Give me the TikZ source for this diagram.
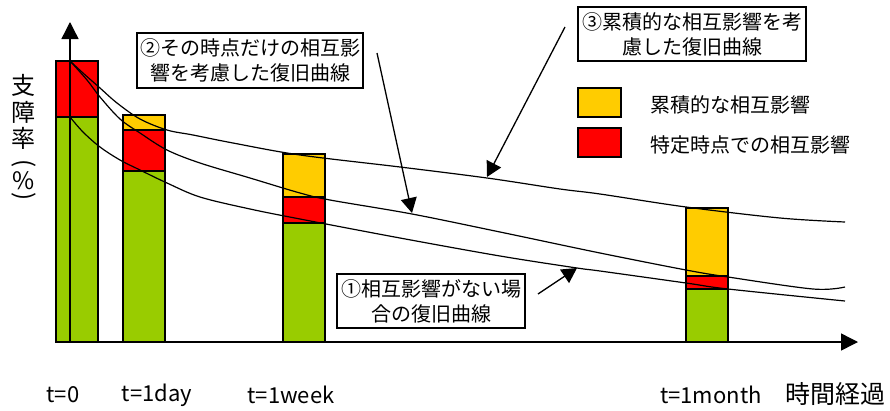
\documentclass[tikz,border=0pt]{standalone}
\usepackage{fontspec}
\setmainfont{Noto Sans CJK JP}
\usetikzlibrary{arrows.meta}
\definecolor{barGreen}{RGB}{153,204,0}
\definecolor{barYellow}{RGB}{255,204,0}
\definecolor{barRed}{RGB}{255,0,0}
\begin{document}
\begin{tikzpicture}[x=1pt,y=-1pt,
  barpart/.style={draw=black,line width=1.2pt},
  greenpart/.style={barpart,fill=barGreen},
  yellowpart/.style={barpart,fill=barYellow},
  redpart/.style={barpart,fill=barRed},
  curve/.style={draw=black,line width=1.2pt},
  axisline/.style={draw=black,line width=1.4pt,-{Triangle[length=17pt,width=17pt]}},
  pointer/.style={draw=black,line width=1.3pt,-{Triangle[length=15pt,width=16pt]}},
  labelbox/.style={draw=black,line width=1.3pt,fill=white,align=center,inner sep=0pt,
    font=\fontsize{20}{25}\selectfont},
  legendtext/.style={anchor=west,inner sep=0pt,font=\fontsize{20}{24}\selectfont},
  ticklabel/.style={inner sep=0pt,font=\fontsize{22}{26}\selectfont},
  ylabchar/.style={inner sep=0pt,font=\fontsize{24}{26}\selectfont}
]
\useasboundingbox (0,0) rectangle (890,410);
\fill[white] (0,0) rectangle (890,410);

% bars
% t=0
\path[greenpart] (56,117) rectangle (98,342);
\path[redpart] (56,61) rectangle (98,117);
% t=1day
\path[greenpart] (123,171) rectangle (165,342);
\path[redpart] (123,130) rectangle (165,171);
\path[yellowpart] (123,115) rectangle (165,130);
% t=1week
\path[greenpart] (283,223) rectangle (325,342);
\path[redpart] (283,197) rectangle (325,223);
\path[yellowpart] (283,154) rectangle (325,197);
% t=1month
\path[greenpart] (686,289) rectangle (728,342);
\path[redpart] (686,276) rectangle (728,289);
\path[yellowpart] (686,208) rectangle (728,276);

% axes
\coordinate (origin) at (70,342);
\coordinate (ytip) at (70,22);
\coordinate (xtip) at (858,342);
\draw[axisline] (origin) -- (ytip);
\draw[axisline] (origin) -- (xtip);

% curves
% (3) cumulative
\draw[curve] plot[smooth,tension=0.55] coordinates {(70,61) (83,73) (100,88) (117,103) (140,119) (167,130) (193,135) (233,143) (300,155) (400,167) (487,178) (560,189) (600,194) (686,207) (780,218) (845,222)};
% (2) point in time
\draw[curve] plot[smooth,tension=0.55] coordinates {(70,61) (87,80) (100,97) (120,119) (140,133) (167,150) (200,163) (250,178) (300,193) (330,200) (412,214) (500,232) (600,253) (686,270) (728,277) (813,289) (845,287)};
% (1) no interaction
\draw[curve] plot[smooth,tension=0.55] coordinates {(70,117) (83,132) (100,147) (120,160) (140,170) (167,183) (200,197) (250,209) (300,219) (400,238) (500,256) (577,268) (600,271) (686,283) (728,289) (845,301)};

% pointer coordinates
\coordinate (p2s) at (377,53);
\coordinate (p2e) at (412,213);
\coordinate (p3s) at (565,27);
\coordinate (p3e) at (487,177);
\coordinate (p1s) at (538,294);
\coordinate (p1e) at (577,268);
\draw[pointer] (p2s) -- (p2e);
\draw[pointer] (p3s) -- (p3e);
\draw[pointer] (p1s) -- (p1e);

% label boxes
\node[labelbox,minimum width=226pt,minimum height=55pt] (box2) at (250,60.5) {②その時点だけの相互影\\響を考慮した復旧曲線};
\node[labelbox,minimum width=228pt,minimum height=54pt] (box3) at (692,34) {③累積的な相互影響を考\\慮した復旧曲線};
\node[labelbox,minimum width=188pt,minimum height=54pt] (box1) at (431,301) {①相互影響がない場\\合の復旧曲線};

% legend
\node[draw=black,line width=1.2pt,fill=barYellow,minimum width=43pt,minimum height=29pt,inner sep=0pt] (legY) at (599.5,102.5) {};
\node[draw=black,line width=1.2pt,fill=barRed,minimum width=43pt,minimum height=29pt,inner sep=0pt] (legR) at (599.5,142.5) {};
\node[legendtext] (legYt) at (650,105) {累積的な相互影響};
\node[legendtext] (legRt) at (650,145) {特定時点での相互影響};

% tick labels
\node[ticklabel] (t0) at (63,395) {t=0};
\node[ticklabel] (t1) at (157,395) {t=1day};
\node[ticklabel] (t2) at (291,395) {t=1week};
\node[ticklabel] (t3) at (711,395) {t=1month};
\node[ticklabel,font=\fontsize{25}{27}\selectfont] (xlab) at (835,394) {時間経過};

% y label (vertical)
\node[ylabchar] (yl1) at (24,85) {支};
\node[ylabchar] (yl2) at (24,112) {障};
\node[ylabchar] (yl3) at (24,138) {率};
\node[ylabchar,rotate=-90] (yl4) at (24,164) {(};
\node[ylabchar] (yl5) at (24,181) {\%};
\node[ylabchar,rotate=-90] (yl6) at (24,197) {)};
\end{tikzpicture}
\end{document}
